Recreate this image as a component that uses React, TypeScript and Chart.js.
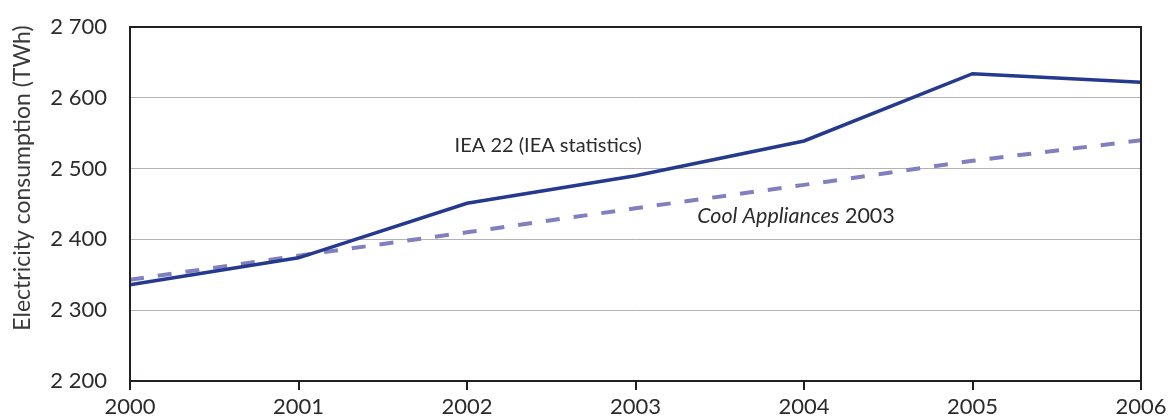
import React, { useEffect, useRef } from "react";
import { Chart, registerables } from "chart.js";

Chart.register(...registerables);

const years = ["2000", "2001", "2002", "2003", "2004", "2005", "2006"];
const iea22 = [2336, 2374, 2451, 2490, 2539, 2634, 2622];
const coolAppliances = [2343, 2377, 2410, 2444, 2477, 2511, 2540];
const yTicks = [2200, 2300, 2400, 2500, 2600, 2700];
const axisTitle = "Electricity consumption (TWh)";
const labelIea = "IEA 22 (IEA statistics)";
const labelCoolItalic = "Cool Appliances";
const labelCoolNormal = " 2003";

const FONT = "Lato, 'Open Sans', sans-serif";
const TEXT = "#2b2b2b";

const decorPlugin = {
  id: "decor",
  afterDatasetsDraw(chart: any) {
    const { ctx, chartArea, scales } = chart;
    const x = scales.x;
    const y = scales.y;
    ctx.save();
    ctx.strokeStyle = "#231f20";
    ctx.lineWidth = 2;
    ctx.strokeRect(chartArea.left, chartArea.top, chartArea.right - chartArea.left, chartArea.bottom - chartArea.top);

    ctx.fillStyle = TEXT;
    ctx.textBaseline = "middle";
    ctx.font = `20px ${FONT}`;
    ctx.textAlign = "center";
    const ix = (x.getPixelForValue(2) + x.getPixelForValue(3)) / 2 - 3;
    ctx.fillText(labelIea, ix, y.getPixelForValue(2533));

    const cx = x.getPixelForValue(4) - 8;
    const cy = y.getPixelForValue(2433);
    ctx.font = `italic 21.5px ${FONT}`;
    const w1 = ctx.measureText(labelCoolItalic).width;
    ctx.font = `21.5px ${FONT}`;
    const w2 = ctx.measureText(labelCoolNormal).width;
    const start = cx - (w1 + w2) / 2;
    ctx.textAlign = "left";
    ctx.font = `italic 21.5px ${FONT}`;
    ctx.fillText(labelCoolItalic, start, cy);
    ctx.font = `21.5px ${FONT}`;
    ctx.fillText(labelCoolNormal, start + w1, cy);

    ctx.translate(23, 178);
    ctx.rotate(-Math.PI / 2);
    ctx.textAlign = "center";
    ctx.fillStyle = "#3a3a3a";
    ctx.font = `23px ${FONT}`;
    ctx.fillText(axisTitle, 0, 0);
    ctx.restore();
  },
};

export default function App() {
  const ref = useRef<HTMLCanvasElement | null>(null);
  useEffect(() => {
    if (!ref.current) return;
    const chart = new Chart(ref.current, {
      type: "line",
      data: {
        labels: years,
        datasets: [
          {
            label: labelIea,
            data: iea22,
            borderColor: "#253a8e",
            borderWidth: 3.5,
            pointRadius: 0,
            tension: 0,
            fill: false,
          },
          {
            label: "Cool Appliances 2003",
            data: coolAppliances,
            borderColor: "#8080c0",
            borderWidth: 4,
            borderDash: [14, 14],
            pointRadius: 0,
            tension: 0,
            fill: false,
          },
        ],
      },
      options: {
        animation: false,
        responsive: false,
        maintainAspectRatio: false,
        layout: { padding: { top: 27, right: 28, left: 0, bottom: 0 } },
        plugins: {
          legend: { display: false },
          tooltip: { enabled: false },
          title: { display: false },
        },
        scales: {
          x: {
            type: "category",
            offset: false,
            grid: {
              display: true,
              drawOnChartArea: false,
              drawTicks: true,
              tickLength: 9,
              color: "#231f20",
              lineWidth: 2,
            },
            border: { display: false },
            ticks: {
              color: TEXT,
              font: { family: FONT, size: 22 },
              padding: 4,
              maxRotation: 0,
              autoSkip: false,
            },
            afterFit(scale: any) {
              scale.height = 39;
              scale.paddingLeft = 0;
              scale.paddingRight = 0;
            },
          },
          y: {
            min: 2200,
            max: 2700,
            afterBuildTicks(scale: any) {
              scale.ticks = yTicks.map((v) => ({ value: v }));
            },
            grid: {
              color: "#b3b3b3",
              lineWidth: 1,
              drawTicks: false,
            },
            border: { display: false },
            ticks: {
              color: TEXT,
              font: { family: FONT, size: 22 },
              padding: 23,
              callback: (v: any) => {
                const s = String(v);
                return s.slice(0, s.length - 3) + " " + s.slice(-3);
              },
            },
            afterFit(scale: any) {
              scale.width = 130;
              scale.paddingTop = 0;
              scale.paddingBottom = 0;
            },
          },
        },
      },
      plugins: [decorPlugin],
    });
    return () => chart.destroy();
  }, []);
  return (
    <div style={{ position: "fixed", left: 0, top: 0, width: 1169, height: 420, background: "#fff" }}>
      <canvas ref={ref} width={1169} height={420} style={{ width: 1169, height: 420, display: "block" }} />
    </div>
  );
}
